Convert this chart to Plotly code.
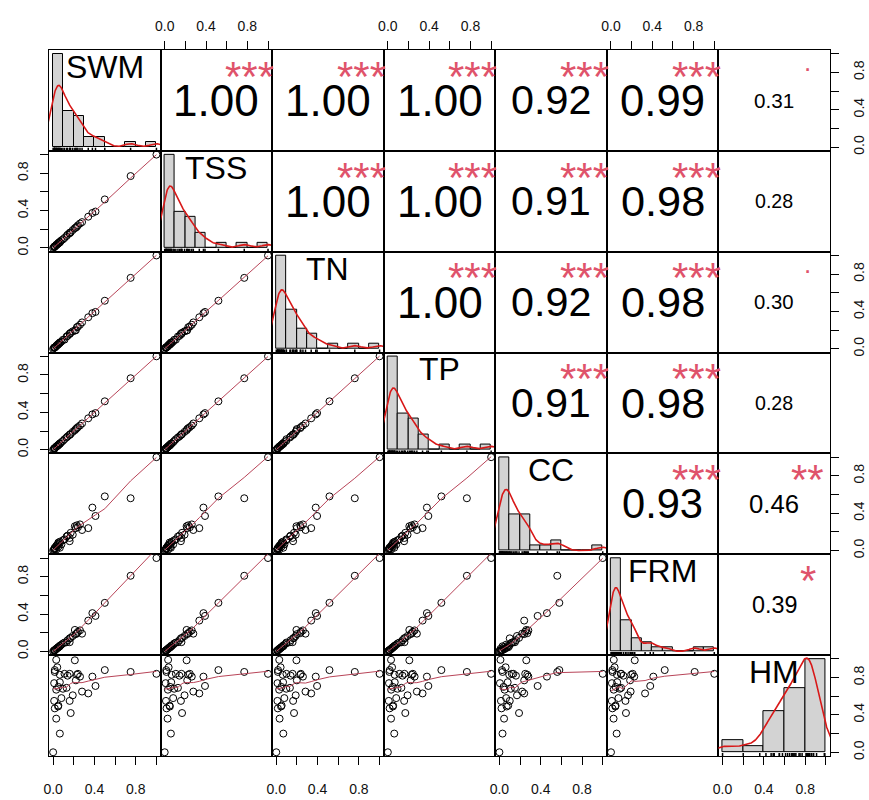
import numpy as np
import plotly.graph_objects as go
from plotly.subplots import make_subplots

# ---------------- data (normalised values) ----------------
variables = ["SWM", "TSS", "TN", "TP", "CC", "FRM", "HM"]

SWM = [0.000, 0.065, 0.030, 0.016, 0.048, 0.010, 0.050, 0.030, 0.040, 0.016, 0.065, 0.010, 0.050,
       0.095, 0.030, 0.016, 0.065, 0.080, 0.110, 0.130, 0.160, 0.170, 0.160, 0.190, 0.140, 0.210,
       0.230, 0.240, 0.220, 0.260, 0.280, 0.340, 0.380, 0.410, 0.500, 0.750, 1.000]
TSS = [0.000, 0.060, 0.028, 0.018, 0.050, 0.012, 0.047, 0.033, 0.038, 0.015, 0.068, 0.009, 0.053,
       0.092, 0.031, 0.017, 0.063, 0.082, 0.108, 0.128, 0.162, 0.168, 0.157, 0.192, 0.143, 0.212,
       0.228, 0.243, 0.218, 0.262, 0.277, 0.335, 0.375, 0.390, 0.520, 0.770, 1.000]
TN = [0.000, 0.068, 0.032, 0.015, 0.046, 0.011, 0.052, 0.029, 0.042, 0.017, 0.063, 0.012, 0.049,
      0.097, 0.028, 0.016, 0.066, 0.078, 0.098, 0.132, 0.158, 0.172, 0.163, 0.188, 0.139, 0.195,
      0.232, 0.238, 0.199, 0.258, 0.283, 0.338, 0.382, 0.395, 0.515, 0.760, 1.000]
TP = [0.000, 0.062, 0.031, 0.017, 0.049, 0.009, 0.051, 0.031, 0.041, 0.018, 0.066, 0.011, 0.048,
      0.094, 0.032, 0.015, 0.067, 0.081, 0.112, 0.131, 0.161, 0.169, 0.158, 0.191, 0.142, 0.208,
      0.231, 0.242, 0.221, 0.259, 0.281, 0.336, 0.378, 0.392, 0.518, 0.765, 1.000]
CC = [0.000, 0.030, 0.045, 0.020, 0.070, 0.015, 0.085, 0.010, 0.060, 0.025, 0.095, 0.005, 0.040,
      0.110, 0.050, 0.030, 0.080, 0.065, 0.120, 0.150, 0.135, 0.190, 0.100, 0.170, 0.160, 0.260,
      0.270, 0.250, 0.240, 0.280, 0.220, 0.240, 0.460, 0.370, 0.580, 0.560, 1.000]
FRM = [0.000, 0.055, 0.025, 0.014, 0.042, 0.008, 0.044, 0.027, 0.035, 0.013, 0.058, 0.009, 0.045,
       0.085, 0.026, 0.015, 0.060, 0.072, 0.095, 0.098, 0.099, 0.145, 0.140, 0.165, 0.120, 0.230,
       0.195, 0.210, 0.185, 0.225, 0.190, 0.330, 0.410, 0.380, 0.520, 0.810, 1.000]
HM = [0.00, 0.20, 0.36, 0.47, 0.49, 0.55, 0.50, 0.99, 0.91, 0.88, 0.83, 0.74, 0.70,
      0.68, 0.67, 0.86, 0.75, 0.58, 0.84, 0.69, 0.84, 0.42, 0.55, 0.61, 0.82, 0.985,
      0.83, 0.84, 0.77, 0.81, 0.65, 0.63, 0.81, 0.71, 0.88, 0.86, 0.84]

hist_bin_width = [0.1, 0.1, 0.1, 0.1, 0.1, 0.1, 0.2]

# printed correlations (upper triangle, row by row) and significance stars
corr_upper = [
    [1.00, 1.00, 1.00, 0.92, 0.99, 0.31],
    [1.00, 1.00, 0.91, 0.98, 0.28],
    [1.00, 0.92, 0.98, 0.30],
    [0.91, 0.98, 0.28],
    [0.93, 0.46],
    [0.39],
]
signif_upper = [
    ["***", "***", "***", "***", "***", "."],
    ["***", "***", "***", "***", ""],
    ["***", "***", "***", "."],
    ["***", "***", ""],
    ["***", "**"],
    ["*"],
]
tick_vals = [0.0, 0.2, 0.4, 0.6, 0.8, 1.0]
tick_text = ["0.0", "", "0.4", "", "0.8", ""]

data = [SWM, TSS, TN, TP, CC, FRM, HM]
N = len(variables)

# ---------------- helpers ----------------
def lowess(x, y, f=2 / 3, iters=3):
    x = np.asarray(x, float)
    y = np.asarray(y, float)
    o = np.argsort(x, kind="mergesort")
    x, y = x[o], y[o]
    n = len(x)
    ns = max(min(n, int(f * n + 1e-7)), 2)
    rw = np.ones(n)
    fit = np.zeros(n)
    for it in range(iters + 1):
        for i in range(n):
            d = np.abs(x - x[i])
            h = max(np.sort(d)[ns - 1], 1e-12)
            u = d / h
            w = np.where(u < 0.999, (1 - np.clip(u, 0, 1) ** 3) ** 3, 0.0) * rw
            sw = w.sum()
            if sw <= 0:
                fit[i] = y[i]
                continue
            xm = (w * x).sum() / sw
            ym = (w * y).sum() / sw
            sxx = (w * (x - xm) ** 2).sum()
            slope = (w * (x - xm) * (y - ym)).sum() / sxx if sxx > 1e-14 else 0.0
            fit[i] = ym + slope * (x[i] - xm)
        if it == iters:
            break
        res = y - fit
        cm = 6 * np.median(np.abs(res))
        if cm < 1e-9:
            break
        r = np.abs(res) / cm
        rw = np.where(r < 1, (1 - r ** 2) ** 2, 0.0)
    return x, fit


def kde(v):
    v = np.asarray(v, float)
    n = len(v)
    sd = v.std(ddof=1)
    iqr = np.percentile(v, 75) - np.percentile(v, 25)
    bw = 0.9 * min(sd, iqr / 1.34) * n ** (-0.2)
    g = np.linspace(v.min() - 3 * bw, v.max() + 3 * bw, 512)
    dens = np.exp(-0.5 * ((g[:, None] - v[None, :]) / bw) ** 2).sum(axis=1) / (n * bw * np.sqrt(2 * np.pi))
    return g, dens


def hist_counts(v, w):
    v = np.asarray(v, float)
    nb = int(round(1.0 / w))
    idx = np.clip(np.ceil(v / w - 1e-9).astype(int) - 1, 0, nb - 1)
    counts = np.bincount(idx, minlength=nb)
    centers = (np.arange(nb) + 0.5) * w
    return centers, counts


# ---------------- figure ----------------
fig = make_subplots(rows=N, cols=N, horizontal_spacing=0, vertical_spacing=0)

POINT = "black"
SMOOTH = "#B84458"
DENS = "#D81818"
STAR = "#DF536B"
FONT = "Arial, Liberation Sans, sans-serif"


def axname(i, j):
    k = i * N + j + 1
    return ("x" if k == 1 else f"x{k}"), ("y" if k == 1 else f"y{k}")


annotations = []
for i in range(N):
    for j in range(N):
        r, c = i + 1, j + 1
        if i == j:
            v = data[i]
            w = hist_bin_width[i]
            centers, counts = hist_counts(v, w)
            dens_h = counts / (len(v) * w)
            m = dens_h.max()
            fig.add_trace(go.Bar(x=centers, y=dens_h / m, width=w,
                                 marker=dict(color="#D3D3D3", line=dict(color="black", width=1)),
                                 showlegend=False, hoverinfo="skip"), row=r, col=c)
            g, d = kde(v)
            fig.add_trace(go.Scatter(x=g, y=d / m, mode="lines", line=dict(color=DENS, width=1.6),
                                     showlegend=False, hoverinfo="skip"), row=r, col=c)
            rx, ry = [], []
            for val in v:
                rx += [val, val, None]
                ry += [-0.04, -0.04 + 0.0324, None]
            fig.add_trace(go.Scatter(x=rx, y=ry, mode="lines", line=dict(color="black", width=1.5),
                                     showlegend=False, hoverinfo="skip"), row=r, col=c)
            xa, ya = axname(i, j)
            annotations.append(dict(text=variables[i], x=0.5, y=0.833, xref=f"{xa} domain",
                                    yref=f"{ya} domain", showarrow=False, xanchor="center",
                                    yanchor="middle", font=dict(size=32, color="black", family=FONT)))
        elif i > j:
            xv, yv = data[j], data[i]
            fig.add_trace(go.Scatter(x=xv, y=yv, mode="markers",
                                     marker=dict(symbol="circle-open", size=7, color=POINT,
                                                 line=dict(width=1, color=POINT)),
                                     showlegend=False, hoverinfo="skip"), row=r, col=c)
            lx, ly = lowess(xv, yv)
            fig.add_trace(go.Scatter(x=lx, y=ly, mode="lines", line=dict(color=SMOOTH, width=1),
                                     showlegend=False, hoverinfo="skip"), row=r, col=c)
        else:
            # empty trace so that the panel (box) is drawn
            fig.add_trace(go.Scatter(x=[None], y=[None], mode="markers", showlegend=False,
                                     hoverinfo="skip"), row=r, col=c)
            val = corr_upper[i][j - i - 1]
            sig = signif_upper[i][j - i - 1]
            xa, ya = axname(i, j)
            fs = 44 * (abs(val) + 0.3) / 1.3
            annotations.append(dict(text=f"{val:.2f}", x=0.5, y=0.5, xref=f"{xa} domain",
                                    yref=f"{ya} domain", showarrow=False, xanchor="center",
                                    yanchor="middle", font=dict(size=fs, color="black", family=FONT)))
            if sig:
                if sig == ".":
                    annotations.append(dict(text=sig, x=0.8, y=0.8, xref=f"{xa} domain",
                                            yref=f"{ya} domain", showarrow=False, xanchor="center",
                                            yanchor="middle", yshift=8,
                                            font=dict(size=26, color=STAR, family=FONT)))
                else:
                    annotations.append(dict(text=sig, x=0.8, y=0.8, xref=f"{xa} domain",
                                            yref=f"{ya} domain", showarrow=False, xanchor="center",
                                            yanchor="middle", yshift=-6,
                                            font=dict(size=42, color=STAR, family=FONT)))

fig.update_xaxes(range=[-0.04, 1.04], showgrid=False, zeroline=False, showline=True, mirror=True,
                 linecolor="black", linewidth=1, ticks="", showticklabels=False, automargin=False,
                 tickvals=tick_vals, ticktext=tick_text)
fig.update_yaxes(range=[-0.04, 1.04], showgrid=False, zeroline=False, showline=True, mirror=True,
                 linecolor="black", linewidth=1, ticks="", showticklabels=False, automargin=False,
                 tickvals=tick_vals, ticktext=tick_text)

tickfont = dict(size=14, color="#111111", family=FONT)
for j in range(N):
    if j % 2 == 1:   # top axis on first row
        fig.update_xaxes(row=1, col=j + 1, side="top", ticks="outside", ticklen=8, tickwidth=1,
                         tickcolor="black", showticklabels=True, tickfont=tickfont, ticklabelstandoff=4)
    else:            # bottom axis on last row
        fig.update_xaxes(row=N, col=j + 1, side="bottom", ticks="outside", ticklen=8, tickwidth=1,
                         tickcolor="black", showticklabels=True, tickfont=tickfont, ticklabelstandoff=12)
for i in range(N):
    if i % 2 == 1:   # left axis
        fig.update_yaxes(row=i + 1, col=1, side="left", ticks="outside", ticklen=8, tickwidth=1,
                         tickcolor="black", showticklabels=True, tickfont=tickfont, tickangle=-90,
                         ticklabelstandoff=6)
    else:            # right axis
        fig.update_yaxes(row=i + 1, col=N, side="right", ticks="outside", ticklen=8, tickwidth=1,
                         tickcolor="black", showticklabels=True, tickfont=tickfont, tickangle=-90,
                         ticklabelstandoff=8)

fig.update_layout(width=869, height=800, margin=dict(l=49, r=39, t=50, b=44),
                  plot_bgcolor="white", paper_bgcolor="white", bargap=0,
                  annotations=annotations, showlegend=False, font=dict(family=FONT))

fig.write_html("out.html", config={"displayModeBar": False},
               post_script="document.body.style.margin='0px';")
